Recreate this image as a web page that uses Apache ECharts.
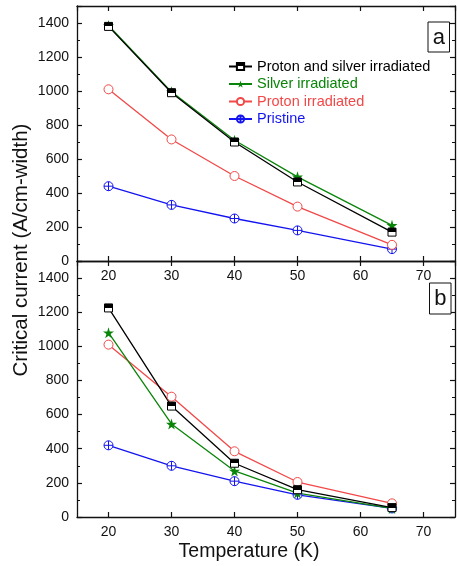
<!DOCTYPE html>
<html>
<head>
<meta charset="utf-8">
<script src="https://cdn.jsdelivr.net/npm/echarts@6/dist/echarts.min.js"></script>
<style>html,body{margin:0;padding:0;background:#fff}#c{width:457px;height:566px}</style>
</head>
<body>
<div id="c"></div>
<script>
var temperatures = [20, 30, 40, 50, 65];
var seriesNames = ['Proton and silver irradiated', 'Silver irradiated', 'Proton irradiated', 'Pristine'];
// Panel (a)
var aProtonSilver = [1380, 990, 700, 465, 170];
var aSilver = [1385, 995, 710, 495, 210];
var aProton = [1010, 715, 500, 320, 95];
var aPristine = [440, 330, 250, 180, 70];
// Panel (b)
var bProtonSilver = [1225, 650, 315, 160, 55];
var bSilver = [1080, 545, 270, 140, 50];
var bProton = [1010, 705, 385, 205, 80];
var bPristine = [420, 300, 210, 130, 50];
var xTicks = [20, 30, 40, 50, 60, 70];
var yTicks = [0, 200, 400, 600, 800, 1000, 1200, 1400];

var FONT = 'Liberation Sans, Arial, sans-serif';
var BLACK = '#000000', GREEN = '#0a850a', RED = '#f24848', BLUE = '#1414f0';
var STAR = 'path://M50,0 L61,35 L98,35 L68,57 L79,91 L50,70 L21,91 L32,57 L2,35 L39,35 Z';
var CROSSCIRCLE = 'path://M0,5 A5,5 0 1,1 10,5 A5,5 0 1,1 0,5 Z M5,0 L5,10 M0,5 L10,5';
var halfFill = {type:'linear', x:0, y:0, x2:0, y2:1, colorStops:[
  {offset:0, color:'#000'}, {offset:0.5, color:'#000'}, {offset:0.5, color:'#fff'}, {offset:1, color:'#fff'}]};

function pairs(vals){ return temperatures.map(function(t,i){ return [t, vals[i]]; }); }

function mkSeries(name, vals, idx){
  var base = {name:name, type:'line', xAxisIndex: idx*2, yAxisIndex: idx*2, data: pairs(vals), z: 3};
  if (name === seriesNames[0]) {
    base.symbol = 'rect'; base.symbolSize = 8;
    base.itemStyle = {color: halfFill, borderColor: BLACK, borderWidth: 1};
    base.lineStyle = {color: BLACK, width: 1.3};
  } else if (name === seriesNames[1]) {
    base.symbol = STAR; base.symbolSize = 11;
    base.itemStyle = {color: GREEN, borderColor: GREEN, borderWidth: 0};
    base.lineStyle = {color: GREEN, width: 1.3};
  } else if (name === seriesNames[2]) {
    base.symbol = 'circle'; base.symbolSize = 9;
    base.itemStyle = {color: '#fff', borderColor: RED, borderWidth: 1};
    base.lineStyle = {color: RED, width: 1.3};
  } else {
    base.symbol = CROSSCIRCLE; base.symbolSize = 9;
    base.itemStyle = {color: '#fff', borderColor: BLUE, borderWidth: 1};
    base.lineStyle = {color: BLUE, width: 1.3};
  }
  base.emphasis = {disabled: true};
  base.animation = false;
  return base;
}

function xAx(grid, pos, labels){
  return {type:'value', gridIndex: grid, position: pos, min: 15, max: 75, splitNumber: 6,
    axisLine: {show: true, onZero: false, lineStyle: {color: '#111', width: 1.3}},
    axisTick: {show: true, inside: true, length: 5, lineStyle: {color: '#111', width: 1.2}},
    minorTick: {show: false},
    splitLine: {show: false},
    axisLabel: {show: labels, inside: false, margin: 8, color: '#111', fontSize: 14, fontFamily: FONT,
      showMinLabel: false, showMaxLabel: false,
      formatter: function(v){ return xTicks.indexOf(v) >= 0 ? String(v) : ''; }}
  };
}
function yAx(grid, pos, labels){
  return {type:'value', gridIndex: grid, position: pos, min: 0, max: 1500, interval: 200,
    axisLine: {show: true, onZero: false, lineStyle: {color: '#111', width: 1.3}},
    axisTick: {show: true, inside: true, length: 5, lineStyle: {color: '#111', width: 1.2}},
    minorTick: {show: true, splitNumber: 2, length: 3, lineStyle: {color: '#111', width: 1}},
    splitLine: {show: false},
    axisLabel: {show: labels, margin: 8, color: '#111', fontSize: 14, fontFamily: FONT,
      formatter: function(v){ return yTicks.indexOf(v) >= 0 ? String(v) : ''; }}
  };
}

var series = [
  mkSeries(seriesNames[3], aPristine, 0),
  mkSeries(seriesNames[2], aProton, 0),
  mkSeries(seriesNames[1], aSilver, 0),
  mkSeries(seriesNames[0], aProtonSilver, 0),
  mkSeries(seriesNames[3], bPristine, 1),
  mkSeries(seriesNames[2], bProton, 1),
  mkSeries(seriesNames[1], bSilver, 1),
  mkSeries(seriesNames[0], bProtonSilver, 1)
];

var legendColors = [BLACK, GREEN, RED, BLUE];

var option = {
  animation: false,
  backgroundColor: '#fff',
  textStyle: {fontFamily: FONT},
  grid: [
    {left: 77, right: 2, top: 6, height: 255},
    {left: 77, right: 2, top: 261, height: 256}
  ],
  xAxis: [xAx(0, 'bottom', true), xAx(0, 'top', false), xAx(1, 'bottom', true), xAx(1, 'top', false)],
  yAxis: [yAx(0, 'left', true), yAx(0, 'right', false), yAx(1, 'left', true), yAx(1, 'right', false)],
  legend: {
    orient: 'vertical', left: 228, top: 59, padding: 0, itemWidth: 23, itemHeight: 9, itemGap: 2.5,
    selectedMode: false,
    data: seriesNames.map(function(n, i){ return {name: n, textStyle: {color: legendColors[i]}}; }),
    textStyle: {fontSize: 14.5, fontFamily: FONT, lineHeight: 15, padding: [0,0,0,0]}
  },
  graphic: [
    {type: 'text', x: 21, y: 250, rotation: Math.PI/2,
      style: {text: 'Critical current (A/cm-width)', font: '20.5px ' + FONT, fill: '#111', align: 'center', verticalAlign: 'middle'}},
    {type: 'text', x: 249, y: 552,
      style: {text: 'Temperature (K)', font: '19.5px ' + FONT, fill: '#111', align: 'center', verticalAlign: 'middle'}},
    {type: 'rect', shape: {x: 428, y: 22, width: 21.5, height: 30}, style: {fill: '#fff', stroke: '#111', lineWidth: 1}, z: 10},
    {type: 'text', x: 438.8, y: 37.5, z: 11, style: {text: 'a', font: '22px ' + FONT, fill: '#111', align: 'center', verticalAlign: 'middle'}},
    {type: 'rect', shape: {x: 429.5, y: 283, width: 21.5, height: 31}, style: {fill: '#fff', stroke: '#111', lineWidth: 1}, z: 10},
    {type: 'text', x: 440.3, y: 299, z: 11, style: {text: 'b', font: '22px ' + FONT, fill: '#111', align: 'center', verticalAlign: 'middle'}}
  ],
  series: series
};

var chart = echarts.init(document.getElementById('c'), null, {renderer: 'canvas'});
chart.setOption(option);
</script>
</body>
</html>
